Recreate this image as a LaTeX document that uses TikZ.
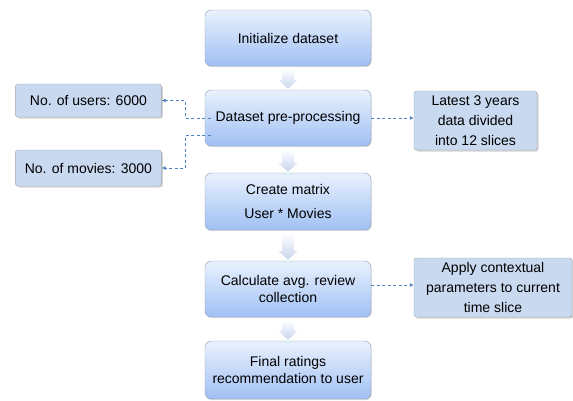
\documentclass[tikz,border=0pt]{standalone}
\usepackage{fontspec}
\setmainfont{Liberation Sans}
\usetikzlibrary{calc,shadows,arrows.meta}

\definecolor{maintop}{RGB}{233,241,253}
\definecolor{mainbottom}{RGB}{160,192,244}
\definecolor{mainline}{RGB}{145,156,178}
\definecolor{sidefill}{RGB}{200,217,240}
\definecolor{sideline}{RGB}{160,166,176}
\definecolor{linkblue}{RGB}{79,129,189}
\definecolor{arrowblue}{RGB}{198,212,238}

\newcommand{\flowarrow}[2]{%
  \shade[top color=white, bottom color=arrowblue]
    ($(#1.south)+(-6,3)$) -- ($(#1.south)+(6,3)$) -- ($(#2.north)+(6,-10)$)
    -- ($(#2.north)+(9.5,-10)$) -- ($(#2.north)+(0,-1)$)
    -- ($(#2.north)+(-9.5,-10)$) -- ($(#2.north)+(-6,-10)$) -- cycle;}

\begin{document}
\begin{tikzpicture}[x=1pt, y=-1pt, align=center,
  font=\fontsize{14}{17}\selectfont,
  mainbox/.style={draw=mainline, rounded corners=6pt, top color=maintop,
    bottom color=mainbottom, minimum width=166pt, inner sep=2pt,
    drop shadow={opacity=0.25, shadow xshift=0.8pt, shadow yshift=-1.2pt}},
  sidebox/.style={draw=sideline, rounded corners=2.5pt, fill=sidefill,
    inner sep=2pt, font=\fontsize{14}{20}\selectfont,
    drop shadow={opacity=0.35, shadow xshift=1.5pt, shadow yshift=-1.5pt}},
  link/.style={draw=linkblue, line width=0.9pt, dash pattern=on 3pt off 2.5pt,
    -{Latex[length=4pt,width=4pt]}}]

\useasboundingbox (0,0) rectangle (573,400);

\node[mainbox, minimum height=56pt] (init) at (288, 38) {Initialize dataset};
\node[mainbox, minimum height=56pt] (prep) at (288, 118) {Dataset pre-processing};
\node[mainbox, minimum height=57pt] (matrix) at (288, 201.5) {Create matrix\\[7pt]User * Movies};
\node[mainbox, minimum height=56pt] (avg) at (288, 289) {Calculate avg. review\\collection};
\node[mainbox, minimum height=58pt] (final) at (288, 370) {Final ratings\\recommendation to user};

\node[sidebox, minimum width=146pt, minimum height=33pt] (users) at (88.4, 100.5) {No. of users: 6000};
\node[sidebox, minimum width=146pt, minimum height=36pt] (movies) at (88.4, 168) {No. of movies: 3000};
\node[sidebox, minimum width=123pt, minimum height=59pt] (slices) at (475.5, 120.5) {Latest 3 years\\data divided\\into 12 slices};
\node[sidebox, minimum width=158pt, minimum height=59pt] (context) at (493, 287.5) {Apply contextual\\parameters to current\\time slice};

\flowarrow{init}{prep}
\flowarrow{prep}{matrix}
\flowarrow{matrix}{avg}
\flowarrow{avg}{final}

\draw[link] ($(prep.west)+(6,0)$) -- ++(-25,0) |- (users.east);
\draw[link] ($(prep.west)+(6,17)$) -- ++(-25,0) |- (movies.east);
\draw[link] (prep.east) -- (prep.east -| slices.west);
\draw[link] ($(avg.east)+(0,-4)$) -- ($(avg.east -| context.west)+(0,-4)$);

\end{tikzpicture}
\end{document}
